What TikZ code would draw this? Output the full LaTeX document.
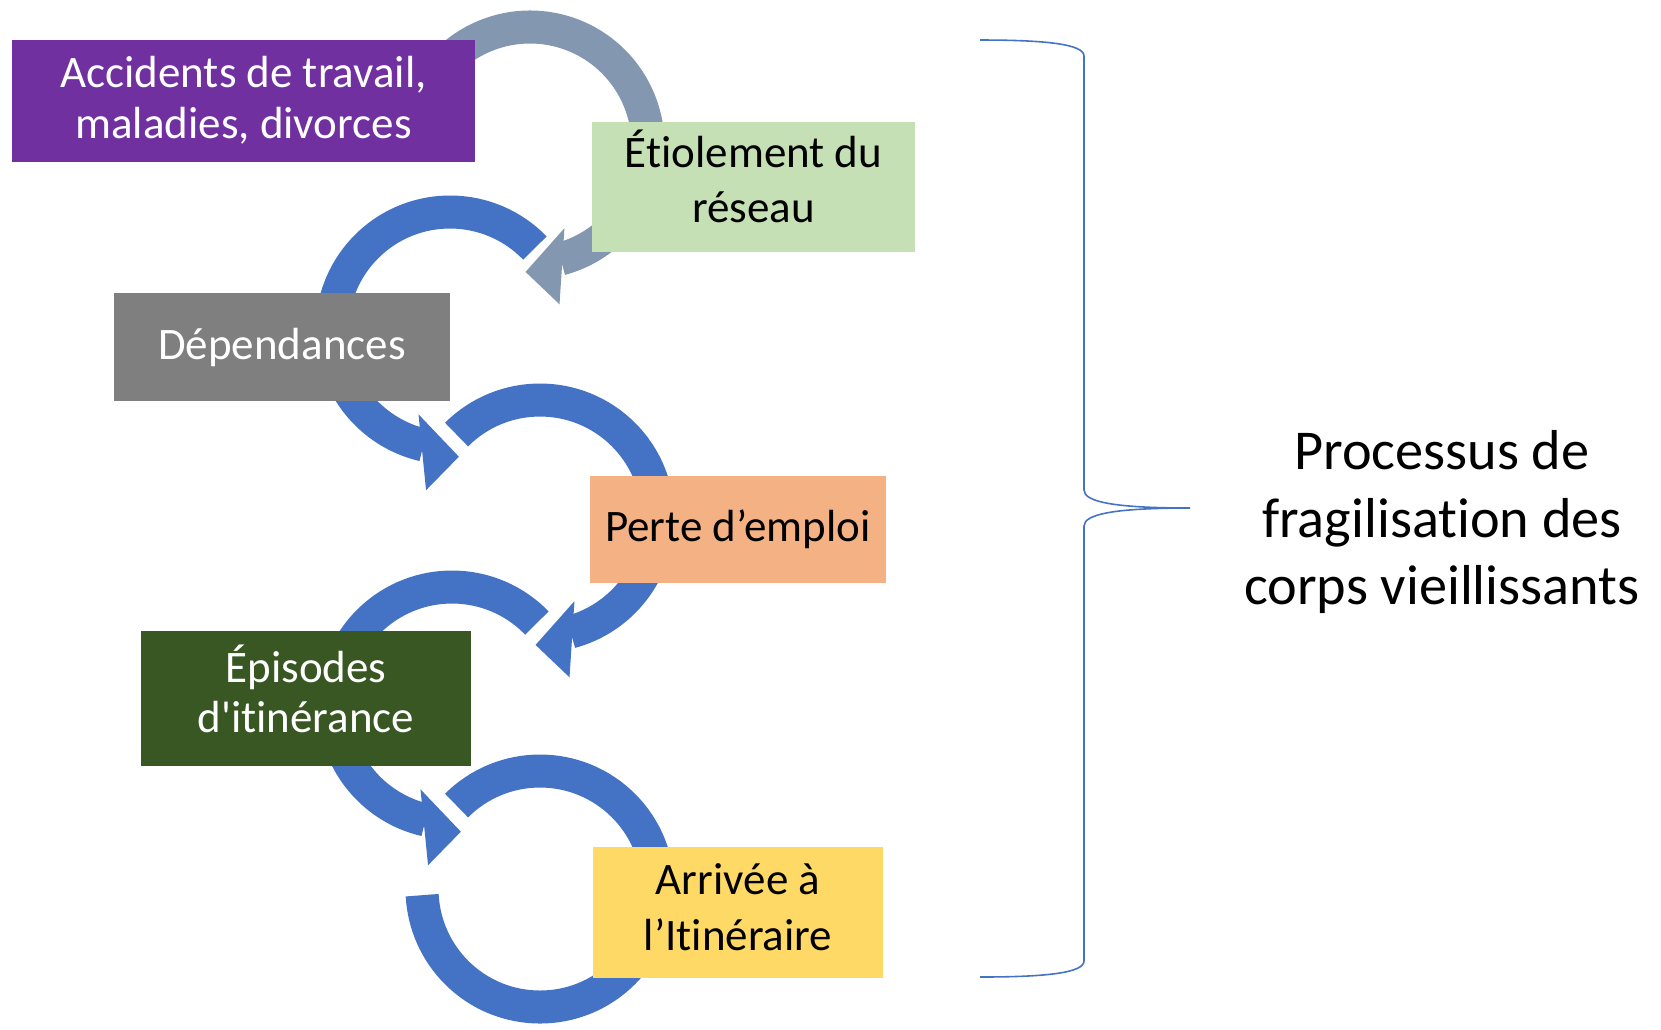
\documentclass[tikz,border=0pt]{standalone}
\usepackage{fontspec}
\setmainfont{Carlito}[Ligatures={TeX,NoCommon}]
\usepackage{tikz}
\usetikzlibrary{calc}

\definecolor{purplebox}{HTML}{7030A0}
\definecolor{greenbox}{HTML}{C5E0B4}
\definecolor{graybox}{HTML}{7F7F7F}
\definecolor{orangebox}{HTML}{F4B183}
\definecolor{darkgreenbox}{HTML}{385723}
\definecolor{yellowbox}{HTML}{FFD966}
\definecolor{ringblue}{HTML}{4472C4}
\definecolor{ringgray}{HTML}{8497B0}

\begin{document}
\begin{tikzpicture}[x=0.01cm, y=0.01cm,
        box/.style={rectangle, inner sep=0pt, align=center, font=\fontsize{12.8}{14.5}\selectfont},
        twolines/.style={text depth=0pt, text height=#1},
        ring/.style={line width=0.33cm},
        brace/.style={draw=ringblue, line width=0.45pt}]
        \useasboundingbox (0,0) rectangle (1661,-1029);

        % curved arrows: centre x/y, start, end, direction, colour
        \foreach \cx/\cy/\a/\b/\s/\col in {530/145/160/-72/1/ringgray, 450/330/44/254/-1/ringblue, 540/518/135/-72/1/ringblue, 452/705/44/254/-1/ringblue} {
            \draw[ring, draw=\col] ($(\cx,-\cy)+(\a:118)$) arc[start angle=\a, end angle=\b-3*\s, radius=118];
            \fill[\col] ($(\cx,-\cy)+(\b+4.5*\s:90)$) -- ($(\cx,-\cy)+(\b-7.5*\s:162)$) -- ($(\cx,-\cy)+(\b-20*\s:127)$) -- cycle;
        }
        \draw[ring, draw=ringblue] ($(540,-889)+(135:118)$) arc[start angle=135, end angle=-177, radius=118];

        \node[box, twolines=0.74cm, fill=purplebox, text=white, minimum width=4.63cm, minimum height=1.22cm] (accidents) at (243.5,-101) {Accidents de travail,\\maladies, divorces};
        \node[box, twolines=0.70cm, fill=greenbox, minimum width=3.23cm, minimum height=1.30cm, font=\fontsize{12.8}{15.6}\selectfont] (etiolement) at (753.5,-187) {Étiolement du\\réseau};
        \node[box, fill=graybox, text=white, minimum width=3.36cm, minimum height=1.08cm] (dependances) at (282,-347) {Dépendances};
        \node[box, fill=orangebox, minimum width=2.96cm, minimum height=1.07cm] (perte) at (738,-529.5) {Perte d’emploi};
        \node[box, twolines=0.67cm, fill=darkgreenbox, text=white, minimum width=3.30cm, minimum height=1.35cm, font=\fontsize{12.8}{14}\selectfont] (episodes) at (306,-698.5) {Épisodes\\d\textquotesingle itinérance};
        \node[box, twolines=0.75cm, fill=yellowbox, minimum width=2.90cm, minimum height=1.31cm, font=\fontsize{12.8}{15.9}\selectfont] (arrivee) at (738,-912.5) {Arrivée à\\l’Itinéraire};

        \coordinate (tip) at (1190,-508);
        \draw[brace] (980,-40) .. controls (1045,-40) and (1084,-44) .. (1084,-56) -- (1084,-490)
            .. controls (1084,-502) and (1115,-508) .. (tip)
            .. controls (1115,-508) and (1084,-514) .. (1084,-526) -- (1084,-961)
            .. controls (1084,-973) and (1045,-977) .. (980,-977);
        \node[align=center, font=\fontsize{16}{19.2}\selectfont] (processus) at (1442,-522) {Processus de\\fragilisation des\\corps vieillissants};
\end{tikzpicture}
\end{document}
